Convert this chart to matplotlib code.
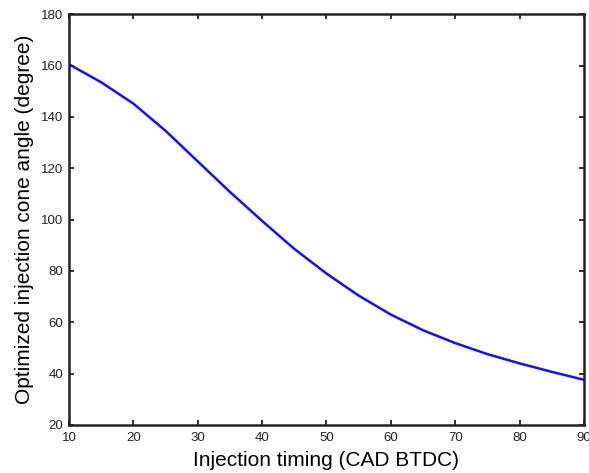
import matplotlib
matplotlib.use("Agg")
import matplotlib.pyplot as plt

# Optimized cone angle vs. injection timing
timing = [10, 15, 20, 25, 30, 35, 40, 45, 50, 55, 60, 65, 70, 75, 80, 85, 90]
cone_angle = [160.5, 153.5, 145.2, 134.6, 122.7, 110.8, 99.5, 88.6, 79.0,
              70.4, 63.0, 56.9, 51.9, 47.6, 44.0, 40.7, 37.6]

plt.rcParams['font.family'] = ['Liberation Sans', 'DejaVu Sans']

fig = plt.figure(figsize=(5.89, 4.73), dpi=100)
ax = fig.add_axes([0.117, 0.1015, 0.8745, 0.8685])

ax.plot(timing, cone_angle, color='#1010ff', linewidth=1.8)

ax.set_xlim(10, 90)
ax.set_ylim(20, 180)
ax.set_xticks(range(10, 91, 10))
ax.set_yticks(range(20, 181, 20))
ax.tick_params(direction='in', top=True, right=True, length=3.5, width=1.3,
               labelsize=9.5, colors='#222222')
ax.tick_params(axis='x', pad=5)
ax.tick_params(axis='y', pad=4)
for s in ax.spines.values():
    s.set_linewidth(1.8)
    s.set_color('#222222')

ax.set_xlabel("Injection timing (CAD BTDC)", fontsize=15, labelpad=5)
ax.set_ylabel("Optimized injection cone angle (degree)", fontsize=15, labelpad=5)

fig.savefig("out.png", dpi=100)
